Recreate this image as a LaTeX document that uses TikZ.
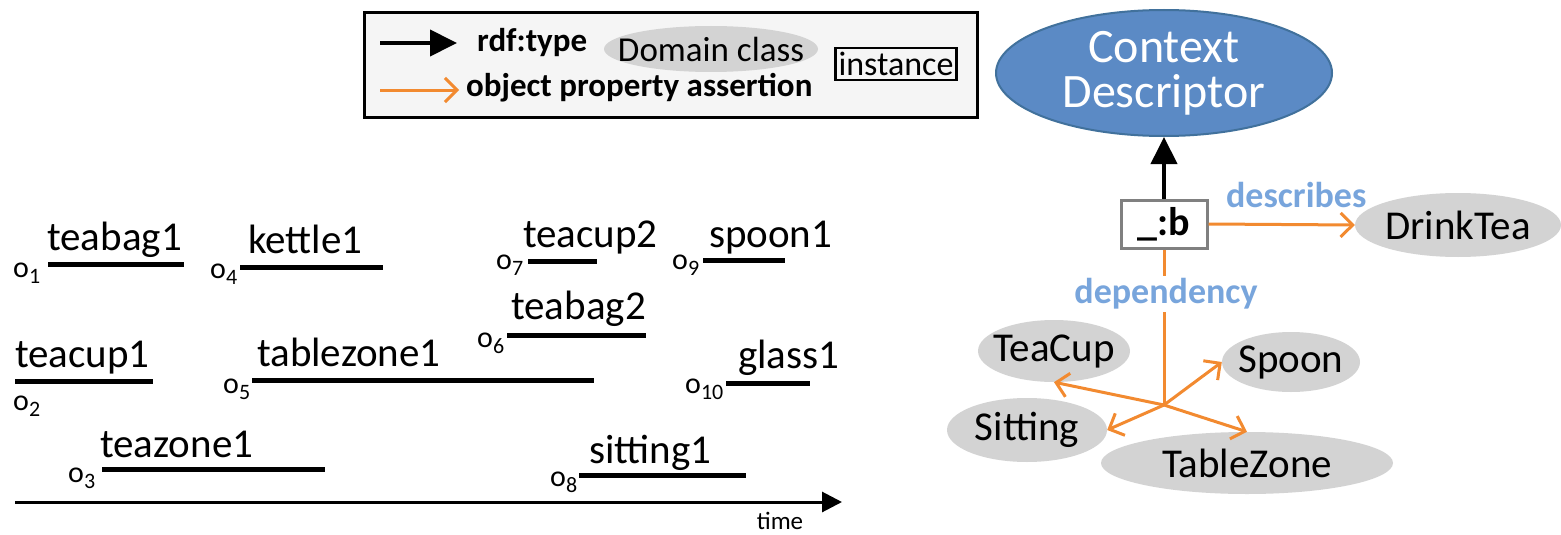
\documentclass[tikz,border=0pt]{standalone}
\usepackage{fontspec}
\setmainfont{Carlito}
\usetikzlibrary{arrows.meta,shapes.geometric}
\definecolor{orng}{HTML}{F28A30}
\definecolor{lblue}{HTML}{78A5DC}
\definecolor{cdblue}{HTML}{5B8AC5}
\definecolor{cdedge}{HTML}{41719C}
\definecolor{ellgray}{HTML}{D3D3D3}
\definecolor{legbg}{HTML}{F5F5F5}
\newcommand\fsz[1]{\fontsize{#1}{#1}\selectfont}
\newcommand\olab[1]{o\raisebox{-6pt}{\fsz{22}#1}}
\begin{document}
\begin{tikzpicture}[x=1pt,y=-1pt,
 bar/.style={line width=5pt},
 lbl/.style={anchor=base west, inner sep=0pt, font=\fsz{41}},
 olbl/.style={anchor=base west, inner sep=0pt, font=\fsz{30}},
 cls/.style={ellipse, fill=ellgray, inner sep=0pt},
 clstext/.style={inner sep=0pt, font=\fsz{41}},
 oarrow/.style={draw=orng, line width=3pt, -{Straight Barb[length=12pt,width=24pt]}},
 karrow/.style={draw=black, line width=4pt, -{Triangle[length=27pt,width=26pt]}},
 edgelbl/.style={text=lblue, font=\fsz{36}\bfseries, inner sep=2pt},
]
\useasboundingbox (0,0) rectangle (1561,535);

% ---------- legend ----------
\draw[line width=3pt, fill=legbg] (364,13) rectangle (977,117);
\coordinate (la1) at (380,43);
\coordinate (la2) at (457,43);
\draw[karrow] (la1) -- (la2);
\node[anchor=west, inner sep=0pt, font=\fsz{33}\bfseries] (rdft) at (477,43) {rdf:type};
\node[cls, minimum width=214pt, minimum height=46pt] (domcl) at (711,49) {};
\node[inner sep=0pt, font=\fsz{35}] (domclt) at (domcl) {Domain class};
\node[draw, line width=2.5pt, inner sep=1pt, font=\fsz{34}, minimum width=121pt, minimum height=32pt] (inst) at (896,64) {instance};
\coordinate (lb1) at (380,90);
\coordinate (lb2) at (459,90);
\draw[oarrow] (lb1) -- (lb2);
\node[anchor=west, inner sep=0pt, font=\fsz{33}\bfseries] (opa) at (466,88) {object property assertion};

% ---------- timeline ----------
\node[lbl] (t1) at (47,250) {teabag1};
\draw[bar] (48,264) -- (184,264);
\node[olbl] (o1) at (13,277) {\olab{1}};

\node[lbl] (t4) at (248,253) {kettle1};
\draw[bar] (240,267) -- (383,267);
\node[olbl] (o4) at (210,278) {\olab{4}};

\node[lbl] (t2) at (15,367) {teacup1};
\draw[bar] (15,381) -- (153,381);
\node[olbl] (o2) at (13,410) {\olab{2}};

\node[lbl] (t5) at (257,366) {tablezone1};
\draw[bar] (252,380) -- (594,380);
\node[olbl] (o5) at (223,393) {\olab{5}};

\node[lbl] (t3) at (100,457) {teazone1};
\draw[bar] (102,469) -- (325,469);
\node[olbl] (o3) at (68,482) {\olab{3}};

\node[lbl] (t7) at (523,247) {teacup2};
\draw[bar] (528,261) -- (597,261);
\node[olbl] (o7) at (496,269) {\olab{7}};

\node[lbl] (t9) at (709,247) {spoon1};
\draw[bar] (703,260) -- (785,260);
\node[olbl] (o9) at (672,269) {\olab{9}};

\node[lbl] (t6) at (511,319) {teabag2};
\draw[bar] (507,335) -- (646,335);
\node[olbl] (o6) at (477,347) {\olab{6}};

\node[lbl] (t10) at (738,368) {glass1};
\draw[bar] (726,383) -- (810,383);
\node[olbl] (o10) at (685,393) {\olab{10}};

\node[lbl] (t8) at (589,463) {sitting1};
\draw[bar] (579,475) -- (746,475);
\node[olbl] (o8) at (550,486) {\olab{8}};

\coordinate (tax1) at (15,502);
\coordinate (tax2) at (842,502);
\draw[line width=3pt, -{Triangle[length=20pt,width=20pt]}] (tax1) -- (tax2);
\node[font=\fsz{25}, inner sep=0pt] (time) at (780,521) {time};

% ---------- graph ----------
\node[ellipse, fill=cdblue, draw=cdedge, line width=2pt, minimum width=336pt, minimum height=126pt, inner sep=0pt,
      text=white, font=\fsz{48}, align=center] (cd) at (1164,73) {Context\\[-3pt]Descriptor};
\node[draw=gray, line width=3pt, fill=white, minimum width=86pt, minimum height=48pt, inner sep=0pt,
      font=\fsz{40}\bfseries] (b) at (1164,224) {\_:b};
\node[cls, minimum width=206pt, minimum height=64pt] (drink) at (1458,225) {};
\node[clstext] (drinkt) at (drink) {DrinkTea};
\node[cls, minimum width=152pt, minimum height=62pt] (teacup) at (1054,351) {};
\node[clstext] (teacupt) at (teacup) {TeaCup};
\node[cls, minimum width=138pt, minimum height=60pt] (spoon) at (1291,362) {};
\node[clstext] (spoont) at (spoon) {Spoon};
\node[cls, minimum width=160pt, minimum height=64pt] (sitting) at (1027,430) {};
\node[clstext] (sittingt) at (sitting) {Sitting};
\node[cls, minimum width=292pt, minimum height=62pt] (tzone) at (1247,463) {};
\node[clstext] (tzonet) at (tzone) {TableZone};

\draw[karrow] (b.north) -- (cd.south);
\draw[oarrow] (b.east) -- node[edgelbl, above=13pt, pos=0.6] (desc) {describes} (drink.west);

\coordinate (hub) at (1164,405);
\draw[draw=orng, line width=3pt] (b.south) -- (hub);
\node[edgelbl, fill=white, inner sep=3pt] (dep) at (1166,294) {dependency};
\draw[oarrow] (hub) -- (teacup.south);
\draw[oarrow] (hub) -- (spoon.west);
\draw[oarrow] (hub) -- (sitting.east);
\draw[oarrow] (hub) -- (tzone.north);
\end{tikzpicture}
\end{document}
